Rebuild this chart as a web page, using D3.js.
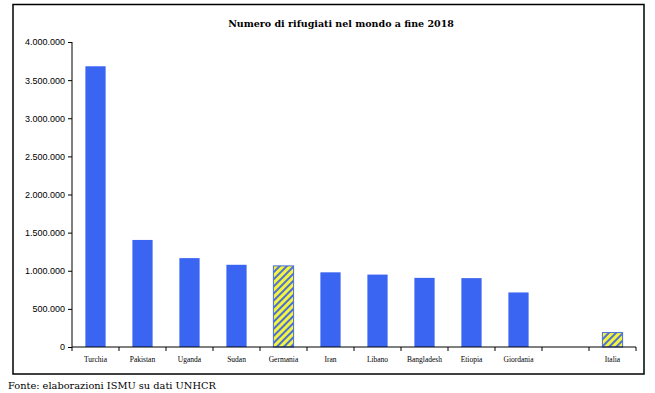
<!DOCTYPE html>
<head>
<meta charset="utf-8">
<title>Numero di rifugiati nel mondo a fine 2018</title>
<style>
  body { margin: 0; background: #fff; }
</style>
</head>
<body>
<script src="https://d3js.org/d3.v7.min.js"></script>
<script>

    var paesi = ['Turchia', 'Pakistan', 'Uganda', 'Sudan', 'Germania', 'Iran', 'Libano',
                 'Bangladesh', 'Etiopia', 'Giordania', '', 'Italia'];
    var rifugiati = [3681700, 1404000, 1165700, 1078300, 1063800, 979400, 949700,
                     906600, 903200, 715300, null, 189200];
    var evidenziati = ['Germania', 'Italia'];
    var yTicks = [0, 500000, 1000000, 1500000, 2000000, 2500000, 3000000, 3500000, 4000000];

    var data = paesi.map(function(p, i) { return {paese: p, key: 'k' + i, valore: rifugiati[i]}; });

    var W = 655, H = 393;
    var margin = {top: 42, left: 72, right: 19, bottom: 46};

    var svg = d3.select('body').append('svg')
        .attr('width', W)
        .attr('height', H);

    // hatch for highlighted bars
    var pat = svg.append('defs').append('pattern')
        .attr('id', 'hatch')
        .attr('patternUnits', 'userSpaceOnUse')
        .attr('width', 5)
        .attr('height', 5)
        .attr('patternTransform', 'rotate(45)');
    pat.append('rect').attr('width', 5).attr('height', 5).attr('fill', '#f4f43c');
    pat.append('rect').attr('width', 2).attr('height', 5).attr('fill', '#4a6fd8');

    // chart frame
    svg.append('rect')
        .attr('x', 13).attr('y', 4.5)
        .attr('width', 631).attr('height', 369.5)
        .attr('fill', 'none')
        .attr('stroke', '#000')
        .attr('stroke-width', 1.5);

    var x = d3.scaleBand()
        .domain(data.map(function(d) { return d.key; }))
        .range([margin.left, W - margin.right])
        .paddingInner(0.57)
        .paddingOuter(0.285);

    var y = d3.scaleLinear()
        .domain([0, 4000000])
        .range([H - margin.bottom, margin.top]);

    var fmt = function(v) { return d3.format(',')(v).replace(/,/g, '.'); };

    svg.selectAll('.bar')
        .data(data.filter(function(d) { return d.valore !== null; }))
        .enter().append('rect')
        .attr('class', 'bar')
        .attr('x', function(d) { return x(d.key); })
        .attr('width', x.bandwidth())
        .attr('y', function(d) { return y(d.valore); })
        .attr('height', function(d) { return y(0) - y(d.valore); })
        .attr('fill', function(d) { return evidenziati.indexOf(d.paese) >= 0 ? 'url(#hatch)' : '#3a64f2'; })
        .attr('stroke', function(d) { return evidenziati.indexOf(d.paese) >= 0 ? '#4a6fd8' : 'none'; })
        .attr('stroke-width', 1);

    var yAxis = svg.append('g')
        .attr('transform', 'translate(' + margin.left + ',0)')
        .call(d3.axisLeft(y).tickValues(yTicks).tickFormat(fmt).tickSize(4).tickPadding(3));
    yAxis.selectAll('text')
        .attr('font-family', '"Liberation Sans", Arial, sans-serif')
        .attr('font-size', '9px')
        .attr('fill', '#000');

    // x axis: ticks between categories
    var step = x.step();
    var xAxis = svg.append('g')
        .attr('transform', 'translate(0,' + y(0) + ')');
    xAxis.append('line')
        .attr('x1', margin.left).attr('x2', W - margin.right)
        .attr('stroke', '#000');
    xAxis.selectAll('.xt')
        .data(d3.range(paesi.length + 1))
        .enter().append('line')
        .attr('class', 'xt')
        .attr('x1', function(i) { return margin.left + i * step; })
        .attr('x2', function(i) { return margin.left + i * step; })
        .attr('y2', 4)
        .attr('stroke', '#000');
    xAxis.selectAll('.xl')
        .data(data)
        .enter().append('text')
        .attr('class', 'xl')
        .attr('x', function(d) { return x(d.key) + x.bandwidth() / 2; })
        .attr('y', 15)
        .attr('text-anchor', 'middle')
        .attr('font-family', '"Liberation Serif", "Times New Roman", serif')
        .attr('font-size', '7.5px')
        .text(function(d) { return d.paese; });

    yAxis.select('.domain').remove();
    yAxis.append('line')
        .attr('y1', y(0)).attr('y2', y(4000000))
        .attr('stroke', '#000');

    svg.append('text')
        .attr('x', 341)
        .attr('y', 27)
        .attr('text-anchor', 'middle')
        .attr('font-family', '"DejaVu Serif", Cambria, serif')
        .attr('font-weight', 'bold')
        .attr('font-size', '9.5px')
        .text('Numero di rifugiati nel mondo a fine 2018');

    svg.append('text')
        .attr('x', 8)
        .attr('y', 389)
        .attr('font-family', '"DejaVu Serif", Cambria, serif')
        .attr('font-size', '9.8px')
        .text('Fonte: elaborazioni ISMU su dati UNHCR');

</script>
</body>
